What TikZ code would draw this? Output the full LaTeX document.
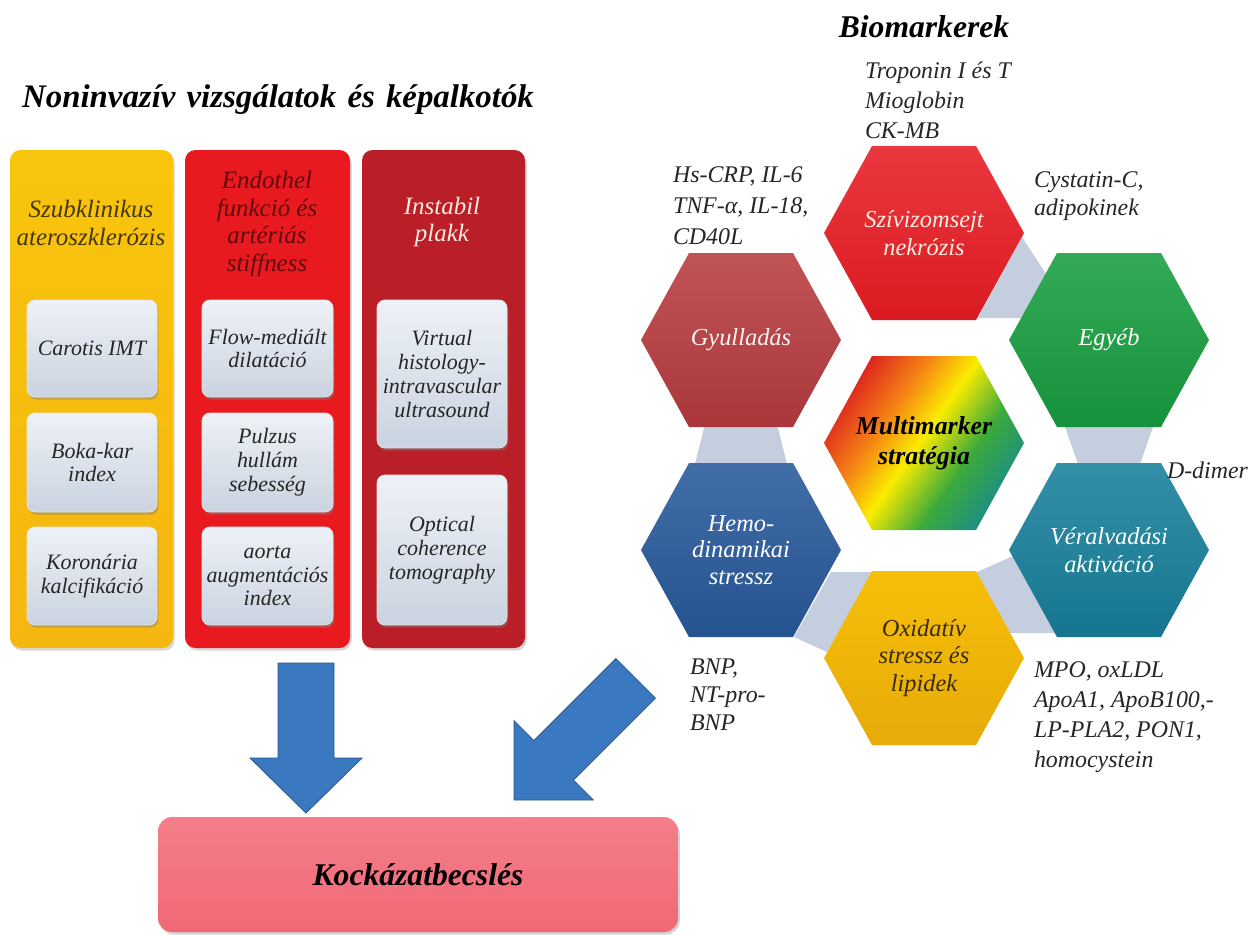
\documentclass[tikz,border=0pt]{standalone}
\usepackage{fontspec}
\setmainfont{Liberation Serif}
\usetikzlibrary{shadows,calc}
\definecolor{gold}{RGB}{246,182,16}
\definecolor{redc}{RGB}{232,26,32}
\definecolor{darkred}{RGB}{186,30,38}
\definecolor{boxtop}{RGB}{238,242,247}
\definecolor{boxbot}{RGB}{202,211,224}
\definecolor{hexred}{RGB}{232,28,36}
\definecolor{hexrose}{RGB}{184,60,64}
\definecolor{hexgreen}{RGB}{24,158,64}
\definecolor{hexblue}{RGB}{40,90,156}
\definecolor{hexteal}{RGB}{24,128,155}
\definecolor{hexgold}{RGB}{245,182,10}
\definecolor{band}{RGB}{197,206,223}
\definecolor{arrowblue}{RGB}{58,120,192}
\definecolor{riskpink}{RGB}{241,104,118}
\definecolor{mmred}{RGB}{222,40,30}
\definecolor{mmorange}{RGB}{245,130,20}
\definecolor{mmyellow}{RGB}{250,236,0}
\definecolor{mmgreen}{RGB}{60,170,60}
\definecolor{mmteal}{RGB}{20,135,150}
\definecolor{t1}{RGB}{70,55,0}
\definecolor{t2}{RGB}{95,10,10}
\definecolor{t3}{RGB}{255,236,226}
\pgfdeclarehorizontalshading{rainbow}{100bp}{color(0bp)=(mmred); color(26bp)=(mmred); color(38bp)=(mmorange); color(49bp)=(mmyellow); color(62bp)=(mmgreen); color(78bp)=(mmteal); color(100bp)=(mmteal)}
\tikzset{
  sz/.style 2 args={minimum width=#1*0.02cm, minimum height=#2*0.02cm},
  colbox/.style={rounded corners=6pt, drop shadow={shadow xshift=1pt, shadow yshift=-1.5pt, opacity=0.3}},
  innerbox/.style={rounded corners=4.5pt, top color=boxtop, bottom color=boxbot, draw=white!80!gray, line width=0.4pt, drop shadow={shadow xshift=0.8pt, shadow yshift=-1.5pt, opacity=0.45}},
  boxtxt/.style={font=\itshape\fontsize{12.5}{13.6}\selectfont, text=black!85},
  coltitle/.style={font=\itshape\fontsize{14.2}{15.6}\selectfont},
  hextxt/.style={font=\itshape\fontsize{13.9}{15.8}\selectfont},
  lbl/.style={font=\itshape\fontsize{13.6}{17}\selectfont, align=left, anchor=west, text=black!85},
  bandfill/.style={fill=band},
  bigarrow/.style={fill=arrowblue, draw=arrowblue!75!black, line width=0.5pt},
  hexa/.pic={\path[pic actions] (-100,0) -- (-52,-87) -- (52,-87) -- (100,0) -- (52,87) -- (-52,87) -- cycle;},
}
\begin{document}
\begin{tikzpicture}[x=0.02cm,y=-0.02cm, every node/.style={inner sep=0pt, outer sep=0pt, align=center}]
\useasboundingbox[fill=white] (0,0) rectangle (1257,934);

% titles
\node[font=\bfseries\itshape\fontsize{18.7}{20}\selectfont] (title) at (278,100) {Noninvazív\hspace{0.34em}vizsgálatok\hspace{0.34em}és\hspace{0.34em}képalkotók};
\node[font=\bfseries\itshape\fontsize{18}{20}\selectfont] (bio) at (924,27) {Biomarkerek};

% columns
\node[colbox, sz={163}{498}, top color=gold!80!yellow, bottom color=gold] (c1) at (91.5,399) {};
\node[colbox, sz={165}{498}, fill=redc] (c2) at (267.5,399) {};
\node[colbox, sz={163}{498}, fill=darkred] (c3) at (443.5,399) {};

\node[coltitle, text=t1] (c1t) at (91,223) {Szubklinikus\\ateroszklerózis};
\node[coltitle, text=t2] (c2t) at (267,224) {Endothel\\funkció és\\artériás\\stiffness};
\node[coltitle, text=t3] (c3t) at (442,222) {Instabil\\plakk};

% inner boxes
\node[innerbox, sz={130}{97}, boxtxt] (b11) at (92,348.5) {Carotis IMT};
\node[innerbox, sz={130}{99}, boxtxt] (b12) at (92,462.5) {Boka-kar\\index};
\node[innerbox, sz={130}{98}, boxtxt] (b13) at (92,576) {Koronária\\kalcifikáció};
\node[innerbox, sz={131}{97}, boxtxt] (b21) at (267.5,348.5) {Flow-mediált\\dilatáció};
\node[innerbox, sz={131}{99}, boxtxt] (b22) at (267.5,462.5) {Pulzus\\hullám\\sebesség};
\node[innerbox, sz={131}{98}, boxtxt] (b23) at (267.5,576) {aorta\\augmentációs\\index};
\node[innerbox, sz={130}{148}, boxtxt] (b31) at (442,374) {Virtual\\histology-\\intravascular\\ultrasound};
\node[innerbox, sz={130}{150}, boxtxt] (b32) at (442,550) {Optical\\coherence\\tomography};

% hexagon centres
\coordinate (szc) at (924,233);
\coordinate (gyc) at (741,340);
\coordinate (egc) at (1109,340);
\coordinate (mmc) at (924,443);
\coordinate (hec) at (741,550);
\coordinate (vec) at (1109,550);
\coordinate (oxc) at (924,658);

% connecting bands
\fill[bandfill] (1022,237) -- (1046,274) -- (1023,318) -- (978,318) -- cycle;
\fill[bandfill] (705,424) -- (777,424) -- (787,464) -- (695,464) -- cycle;
\fill[bandfill] (1064,424) -- (1154,424) -- (1140,464) -- (1078,464) -- cycle;
\fill[bandfill] (831,572) -- (873,572) -- (827,652) -- (794,637) -- cycle;
\fill[bandfill] (975,573) -- (1013,556) -- (1059,633) -- (1010,633) -- cycle;

% hexagons
\pic[top color=hexred!88!white, bottom color=hexred!94!black] at (szc) {hexa};
\pic[top color=hexrose!88!white, bottom color=hexrose!92!black] at (gyc) {hexa};
\pic[top color=hexgreen!88!white, bottom color=hexgreen!92!black] at (egc) {hexa};
\pic[shading=rainbow, shading angle=-35] at (mmc) {hexa};
\pic[top color=hexblue!88!white, bottom color=hexblue!92!black] at (hec) {hexa};
\pic[top color=hexteal!88!white, bottom color=hexteal!92!black] at (vec) {hexa};
\pic[top color=hexgold!88!yellow, bottom color=hexgold!94!black] at (oxc) {hexa};

\node[hextxt, text=t3] (sz) at (szc) {Szívizomsejt\\nekrózis};
\node[hextxt, text=white!95!red] (gy) at (gyc) {Gyulladás};
\node[hextxt, text=white] (eg) at (egc) {Egyéb};
\node[font=\bfseries\itshape\fontsize{14.7}{17}\selectfont, text=black] (mm) at (mmc) {Multimarker\\stratégia};
\node[hextxt, text=white, font=\itshape\fontsize{13.9}{15.3}\selectfont] (he) at (hec) {Hemo-\\dinamikai\\stressz};
\node[hextxt, text=white] (ve) at (vec) {Véralvadási\\aktiváció};
\node[hextxt, text=t1!80!black, font=\itshape\fontsize{13.9}{15.5}\selectfont] (ox) at (oxc) {Oxidatív\\stressz és\\lipidek};

% outside labels
\node[lbl] (ltrop) at (865,100) {Troponin I és T\\Mioglobin\\CK-MB};
\node[lbl, font=\itshape\fontsize{13.6}{17.6}\selectfont] (lcrp) at (673,206) {Hs-CRP, IL-6\\TNF-α, IL-18,\\CD40L};
\node[lbl, font=\itshape\fontsize{13.6}{16}\selectfont] (lcys) at (1034,196) {Cystatin-C,\\adipokinek};
\node[lbl] (ldd) at (1167,470) {D-dimer};
\node[lbl] (lmpo) at (1034,717) {MPO, oxLDL\\ApoA1, ApoB100,-\\LP-PLA2, PON1,\\homocystein};
\node[lbl, font=\itshape\fontsize{13.6}{16}\selectfont] (lbnp) at (690,695) {BNP,\\NT-pro-\\BNP};

% result box
\node[rounded corners=8pt, sz={520}{115}, top color=riskpink!85!white, bottom color=riskpink, drop shadow={shadow xshift=1pt, shadow yshift=-1.5pt, opacity=0.35}, font=\bfseries\itshape\fontsize{18}{20}\selectfont] (risk) at (418,874.5) {Kockázatbecslés};

% block arrows
\coordinate (a1s) at (306,663);
\coordinate (a1e) at (306,813);
\draw[bigarrow] ($(a1s)+(-28,0)$) -- ($(a1s)+(28,0)$) -- ($(a1e)+(28,-55)$) -- ($(a1e)+(56,-55)$) -- (a1e) -- ($(a1e)+(-56,-55)$) -- ($(a1e)+(-28,-55)$) -- cycle;
\coordinate (a2e) at (514,800);
\draw[bigarrow] (a2e) -- (514,720.8) -- (533.8,740.6) -- (615.8,658.6) -- (655.4,698.2) -- (573.4,780.2) -- (593.2,800) -- cycle;
\end{tikzpicture}
\end{document}
